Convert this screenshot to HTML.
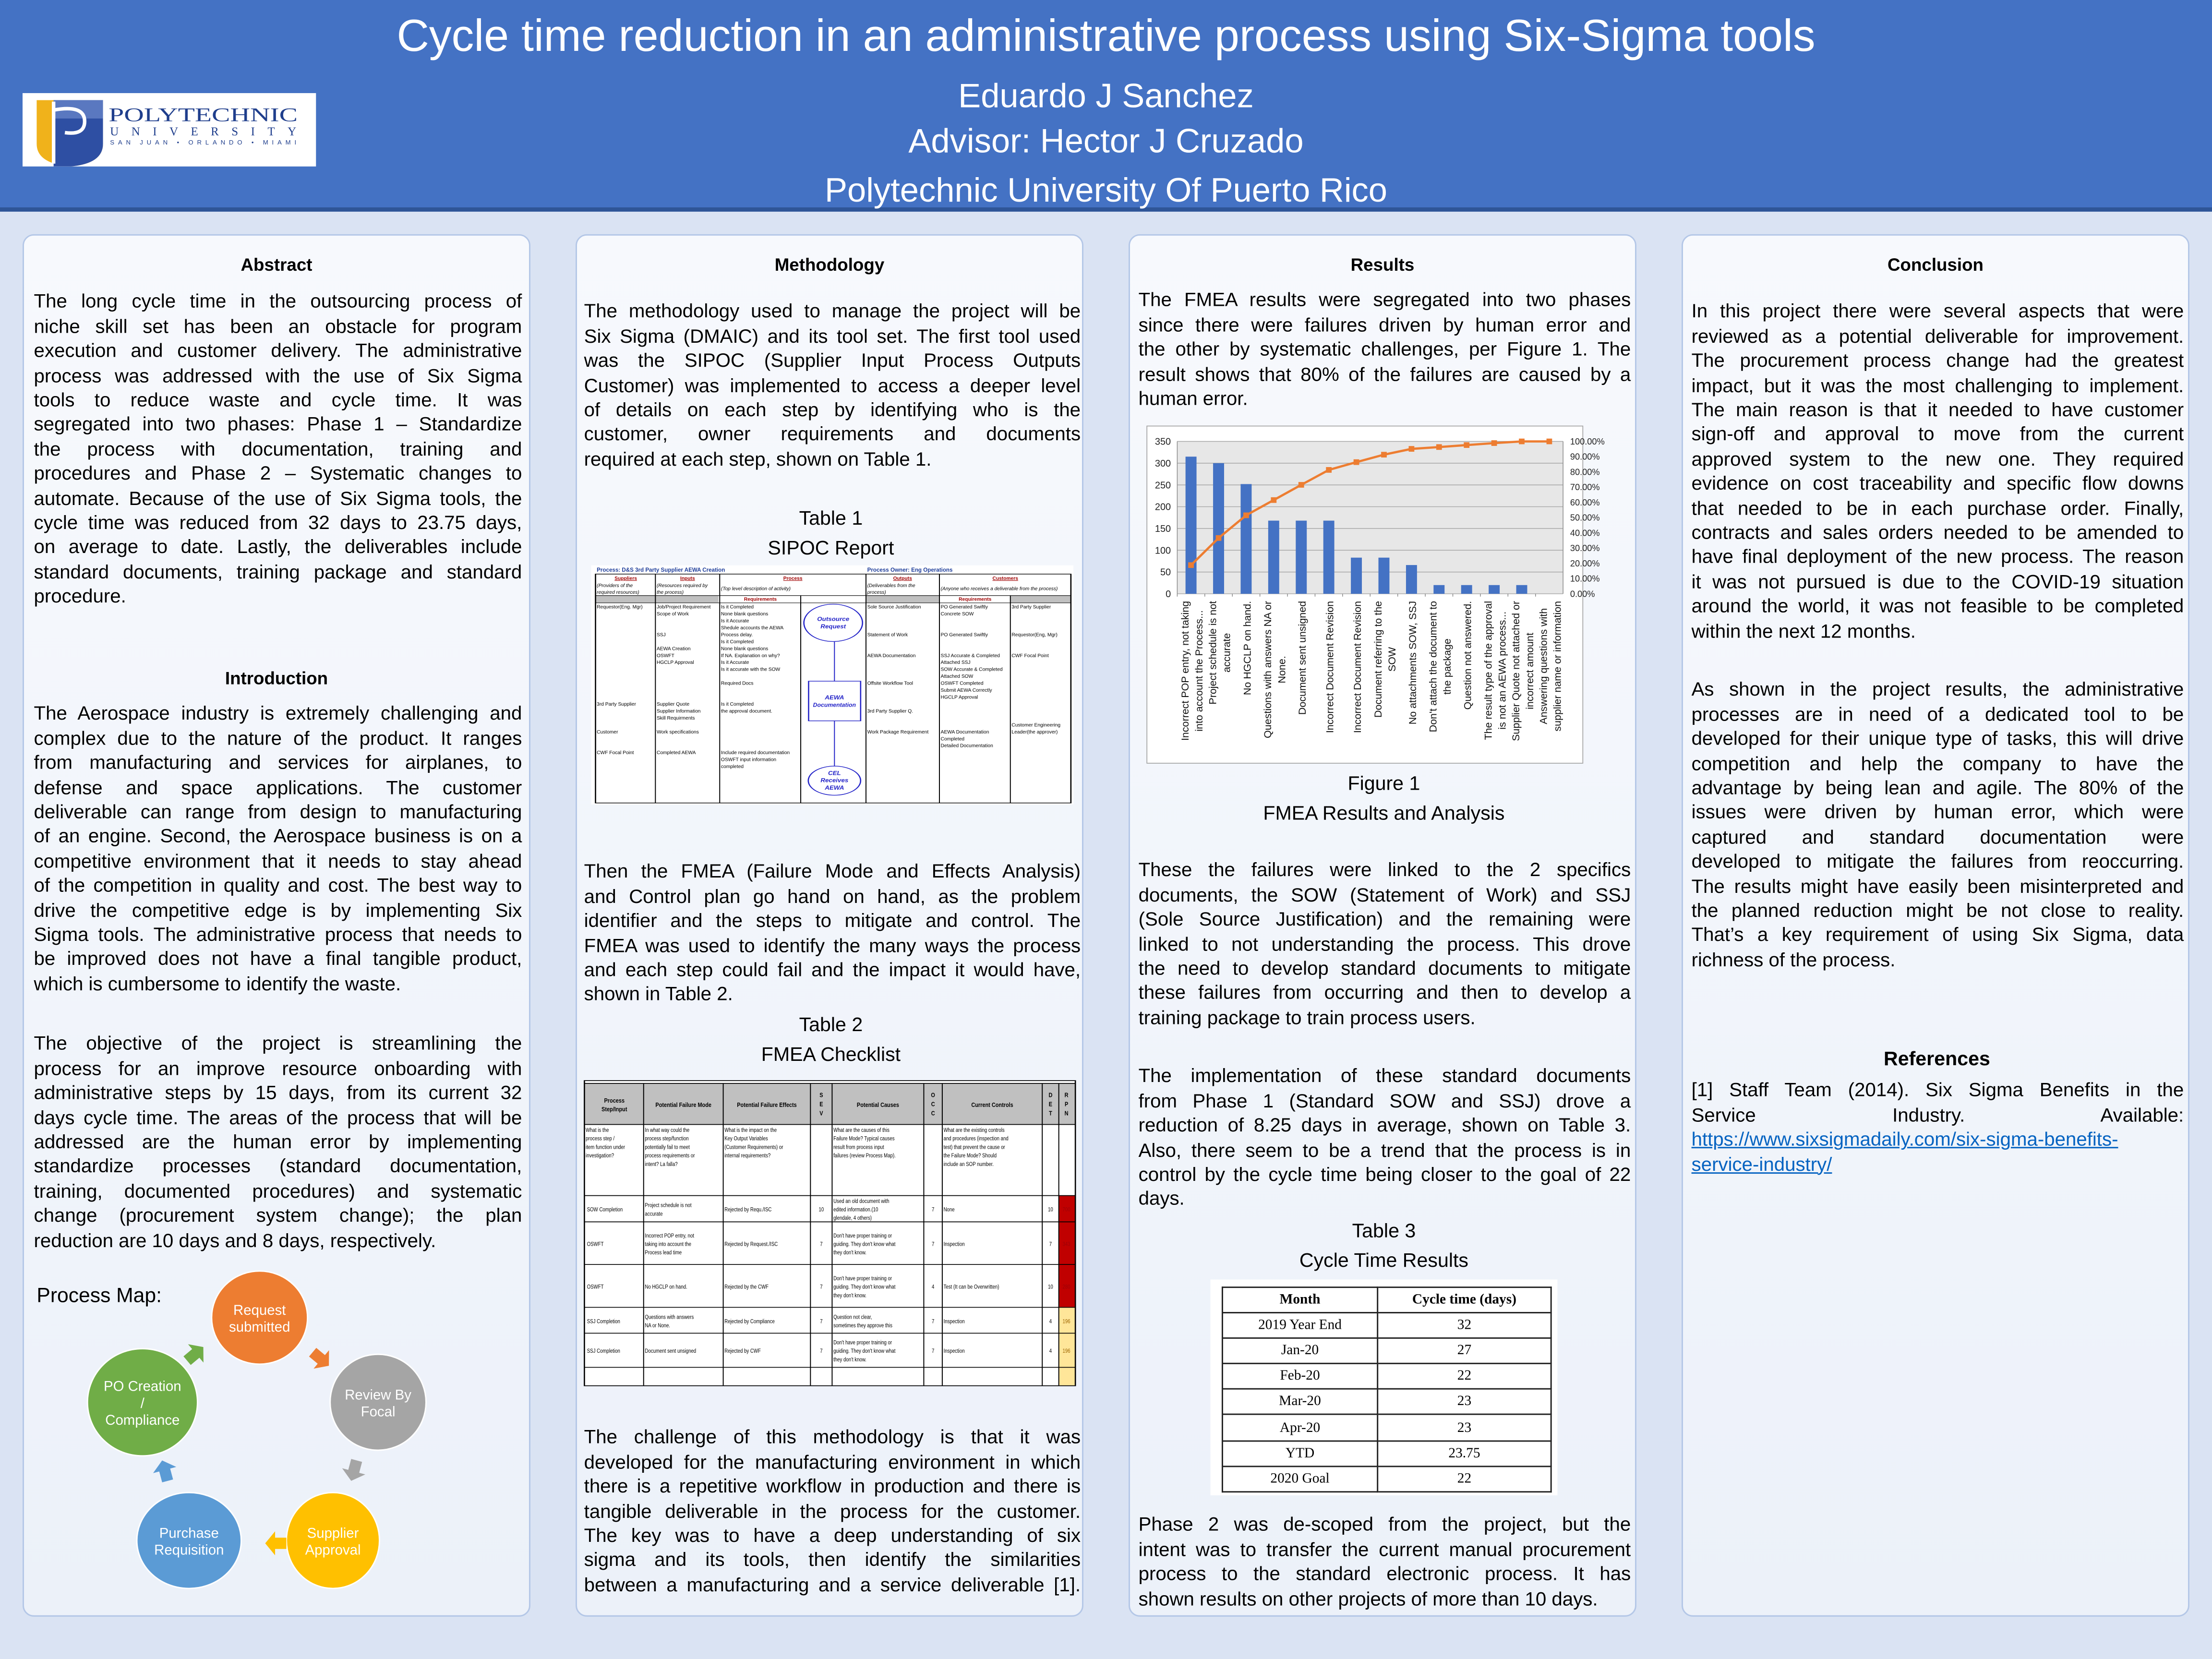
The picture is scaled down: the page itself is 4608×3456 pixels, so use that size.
<!DOCTYPE html>
<html><head><meta charset="utf-8">
<style>
*{margin:0;padding:0;box-sizing:border-box}
html,body{width:4608px;height:3456px;overflow:hidden;background:#DAE3F3}
#w{position:absolute;left:0;top:0;width:1568px;height:1176px;transform:scale(2.938776);transform-origin:0 0;font-family:"Liberation Sans",Arial,sans-serif;color:#000}
#hdr{position:absolute;left:0;top:0;width:1568px;height:150px;background:#4472C4;border-bottom:3px solid #2F5597}
.ht{position:absolute;left:0;width:1568px;text-align:center;color:#fff;white-space:nowrap}
.panel{position:absolute;top:166px;width:360px;height:980px;border:1px solid #B4C7E7;border-radius:8px;background:linear-gradient(#F7F9FD,#ECF1F9)}
.blk{position:absolute;font-size:13.7px}
.l{height:17.42px;line-height:17.42px;text-align:justify;text-align-last:justify;white-space:nowrap}
.l.e{text-align:left;text-align-last:left}
.h{position:absolute;font-weight:bold;font-size:12.5px;text-align:center;white-space:nowrap}
.c{position:absolute;font-size:14px;text-align:center;white-space:nowrap;width:360px}
table.t3{border-collapse:collapse;font-family:"Liberation Serif",serif;font-size:10px}
table.t3 td{border:1px solid #222;text-align:center;height:18.1px;padding:0}
</style></head><body>
<div id="w">
<div id="hdr">
  <div class="ht" style="top:7px;font-size:31.8px">Cycle time reduction in an administrative process using Six-Sigma tools</div>
  <div class="ht" style="top:55px;font-size:24px">Eduardo J Sanchez</div>
  <div class="ht" style="top:87px;font-size:24px">Advisor: Hector J Cruzado</div>
  <div class="ht" style="top:122px;font-size:24px">Polytechnic University Of Puerto Rico</div>
  <div style="position:absolute;left:16px;top:66px;width:208px;height:52px;background:#fff">
    <svg width="208" height="52" viewBox="0 0 208 52" style="position:absolute;left:0;top:0">
      <path d="M10 5 L57 5 L57 36 Q57 50 34 52 Q10 50 10 36 Z" fill="#F0B21B"/>
      <path d="M22 5 L57 5 L57 36 Q57 50 34 52 L22 52 Z" fill="#2E4FA3"/>
      <path d="M22 5 L57 5 L57 18 L22 18 Z" fill="#5A78C0"/>
      <path d="M22 6 L22 50" stroke="#fff" stroke-width="2.5" fill="none"/>
      <path d="M22 12 Q44 8 44 20 Q44 30 30 28" stroke="#fff" stroke-width="2.5" fill="none"/>
      <text x="61" y="20" font-family="Liberation Serif,serif" font-size="13.5" fill="#1F3E8C" textLength="134" lengthAdjust="spacingAndGlyphs">POLYTECHNIC</text>
      <text x="62" y="30" font-family="Liberation Serif,serif" font-size="8.5" fill="#1F3E8C" textLength="132" lengthAdjust="spacing">UNIVERSITY</text>
      <text x="62" y="36.5" font-family="Liberation Sans,sans-serif" font-size="4.5" fill="#1F3E8C" textLength="132" lengthAdjust="spacing">SAN JUAN • ORLANDO • MIAMI</text>
    </svg>
  </div>
</div>

<div class="panel" style="left:16px"></div>
<div class="panel" style="left:408px"></div>
<div class="panel" style="left:800px"></div>
<div class="panel" style="left:1192px"></div>

<!-- Abstract column -->
<div class="h" style="left:16px;width:360px;top:181px">Abstract</div>
<div class="blk" style="left:24px;width:346px;top:205.3px">
<div class="l">The long cycle time in the outsourcing process of</div>
<div class="l">niche skill set has been an obstacle for program</div>
<div class="l">execution and customer delivery. The administrative</div>
<div class="l">process was addressed with the use of Six Sigma</div>
<div class="l">tools to reduce waste and cycle time. It was</div>
<div class="l">segregated into two phases: Phase 1 – Standardize</div>
<div class="l">the process with documentation, training and</div>
<div class="l">procedures and Phase 2 – Systematic changes to</div>
<div class="l">automate. Because of the use of Six Sigma tools, the</div>
<div class="l">cycle time was reduced from 32 days to 23.75 days,</div>
<div class="l">on average to date. Lastly, the deliverables include</div>
<div class="l">standard documents, training package and standard</div>
<div class="l e">procedure.</div>
</div>
<div class="h" style="left:16px;width:360px;top:474px">Introduction</div>
<div class="blk" style="left:24px;width:346px;top:497.3px">
<div class="l">The Aerospace industry is extremely challenging and</div>
<div class="l">complex due to the nature of the product. It ranges</div>
<div class="l">from manufacturing and services for airplanes, to</div>
<div class="l">defense and space applications. The customer</div>
<div class="l">deliverable can range from design to manufacturing</div>
<div class="l">of an engine. Second, the Aerospace business is on a</div>
<div class="l">competitive environment that it needs to stay ahead</div>
<div class="l">of the competition in quality and cost. The best way to</div>
<div class="l">drive the competitive edge is by implementing Six</div>
<div class="l">Sigma tools. The administrative process that needs to</div>
<div class="l">be improved does not have a final tangible product,</div>
<div class="l e">which is cumbersome to identify the waste.</div>
</div>
<div class="blk" style="left:24px;width:346px;top:731.3px">
<div class="l">The objective of the project is streamlining the</div>
<div class="l">process for an improve resource onboarding with</div>
<div class="l">administrative steps by 15 days, from its current 32</div>
<div class="l">days cycle time. The areas of the process that will be</div>
<div class="l">addressed are the human error by implementing</div>
<div class="l">standardize processes (standard documentation,</div>
<div class="l">training, documented procedures) and systematic</div>
<div class="l">change (procurement system change); the plan</div>
<div class="l e">reduction are 10 days and 8 days, respectively.</div>
</div>
<div style="position:absolute;left:26px;top:911px;font-size:14.5px;white-space:nowrap">Process Map:</div>
<svg style="position:absolute;left:0;top:0" width="400" height="1176" viewBox="0 0 400 1176" font-family="Liberation Sans,sans-serif">
  <defs><polygon id="arr" points="-7,-4 1,-4 1,-8.5 8,0 1,8.5 1,4 -7,4"/></defs>
  <g stroke="#fff" stroke-width="1">
  <ellipse cx="184" cy="934" rx="34" ry="33" fill="#ED7D31"/>
  <ellipse cx="268" cy="994" rx="34" ry="34" fill="#A5A5A5"/>
  <ellipse cx="236" cy="1092" rx="33" ry="34" fill="#FFC000"/>
  <ellipse cx="134" cy="1092" rx="37" ry="34" fill="#5B9BD5"/>
  <ellipse cx="101" cy="994" rx="39" ry="38" fill="#70AD47"/>
  </g>
  <use href="#arr" transform="translate(227,963) rotate(40)" fill="#ED7D31"/>
  <use href="#arr" transform="translate(251,1042) rotate(105)" fill="#A5A5A5"/>
  <use href="#arr" transform="translate(196,1094) rotate(180)" fill="#FFC000"/>
  <use href="#arr" transform="translate(117,1043) rotate(-105)" fill="#5B9BD5"/>
  <use href="#arr" transform="translate(138,960) rotate(-40)" fill="#70AD47"/>
  <g fill="#fff" font-size="10" text-anchor="middle">
  <text x="184" y="932">Request</text><text x="184" y="944">submitted</text>
  <text x="268" y="992">Review By</text><text x="268" y="1004">Focal</text>
  <text x="236" y="1090">Supplier</text><text x="236" y="1102">Approval</text>
  <text x="134" y="1090">Purchase</text><text x="134" y="1102">Requisition</text>
  <text x="101" y="986">PO Creation</text><text x="101" y="998">/</text><text x="101" y="1010">Compliance</text>
  </g>
</svg>

<!-- Methodology column -->
<div class="h" style="left:408px;width:360px;top:181px">Methodology</div>
<div class="blk" style="left:414px;width:352px;top:212.3px">
<div class="l">The methodology used to manage the project will be</div>
<div class="l">Six Sigma (DMAIC) and its tool set. The first tool used</div>
<div class="l">was the SIPOC (Supplier Input Process Outputs</div>
<div class="l">Customer) was implemented to access a deeper level</div>
<div class="l">of details on each step by identifying who is the</div>
<div class="l">customer, owner requirements and documents</div>
<div class="l e">required at each step, shown on Table 1.</div>
</div>
<div class="c" style="left:409px;top:359px">Table 1</div>
<div class="c" style="left:409px;top:380px">SIPOC Report</div>
<svg id="sipoc" style="position:absolute;left:418.5px;top:394.7px" width="350.4" height="183.7" viewBox="0 0 1568 1568" preserveAspectRatio="none"></svg>
<div class="blk" style="left:414px;width:352px;top:609.3px">
<div class="l">Then the FMEA (Failure Mode and Effects Analysis)</div>
<div class="l">and Control plan go hand on hand, as the problem</div>
<div class="l">identifier and the steps to mitigate and control. The</div>
<div class="l">FMEA was used to identify the many ways the process</div>
<div class="l">and each step could fail and the impact it would have,</div>
<div class="l e">shown in Table 2.</div>
</div>
<div class="c" style="left:409px;top:718px">Table 2</div>
<div class="c" style="left:409px;top:739px">FMEA Checklist</div>
<svg id="fmea" style="position:absolute;left:411.7px;top:762.2px" width="353.9" height="224.6" viewBox="0 0 1568 1568" preserveAspectRatio="none"></svg>
<div class="blk" style="left:414px;width:352px;top:1010.3px">
<div class="l">The challenge of this methodology is that it was</div>
<div class="l">developed for the manufacturing environment in which</div>
<div class="l">there is a repetitive workflow in production and there is</div>
<div class="l">tangible deliverable in the process for the customer.</div>
<div class="l">The key was to have a deep understanding of six</div>
<div class="l">sigma and its tools, then identify the similarities</div>
<div class="l">between a manufacturing and a service deliverable [1].</div>
</div>

<!-- Results column -->
<div class="h" style="left:800px;width:360px;top:181px">Results</div>
<div class="blk" style="left:807px;width:349px;top:204.3px">
<div class="l">The FMEA results were segregated into two phases</div>
<div class="l">since there were failures driven by human error and</div>
<div class="l">the other by systematic challenges, per Figure 1. The</div>
<div class="l">result shows that 80% of the failures are caused by a</div>
<div class="l e">human error.</div>
</div>
<svg id="chart" style="position:absolute;left:0;top:0" width="1568" height="600" viewBox="0 0 1568 600" font-family="Liberation Sans,sans-serif"></svg>
<div class="c" style="left:801px;top:547px">Figure 1</div>
<div class="c" style="left:801px;top:568px">FMEA Results and Analysis</div>
<div class="blk" style="left:807px;width:349px;top:608.3px">
<div class="l">These the failures were linked to the 2 specifics</div>
<div class="l">documents, the SOW (Statement of Work) and SSJ</div>
<div class="l">(Sole Source Justification) and the remaining were</div>
<div class="l">linked to not understanding the process. This drove</div>
<div class="l">the need to develop standard documents to mitigate</div>
<div class="l">these failures from occurring and then to develop a</div>
<div class="l e">training package to train process users.</div>
</div>
<div class="blk" style="left:807px;width:349px;top:754.3px">
<div class="l">The implementation of these standard documents</div>
<div class="l">from Phase 1 (Standard SOW and SSJ) drove a</div>
<div class="l">reduction of 8.25 days in average, shown on Table 3.</div>
<div class="l">Also, there seem to be a trend that the process is in</div>
<div class="l">control by the cycle time being closer to the goal of 22</div>
<div class="l e">days.</div>
</div>
<div class="c" style="left:801px;top:864px">Table 3</div>
<div class="c" style="left:801px;top:885px">Cycle Time Results</div>
<div style="position:absolute;left:858px;top:907px;width:246px;height:153px;background:#fff"></div>
<table class="t3" style="position:absolute;left:866px;top:912px;width:234px">
<tr style="font-weight:bold"><td style="width:110px">Month</td><td>Cycle time (days)</td></tr>
<tr><td>2019 Year End</td><td>32</td></tr>
<tr><td>Jan-20</td><td>27</td></tr>
<tr><td>Feb-20</td><td>22</td></tr>
<tr><td>Mar-20</td><td>23</td></tr>
<tr><td>Apr-20</td><td>23</td></tr>
<tr><td>YTD</td><td>23.75</td></tr>
<tr><td>2020 Goal</td><td>22</td></tr>
</table>
<div class="blk" style="left:807px;width:349px;top:1072.3px">
<div class="l">Phase 2 was de-scoped from the project, but the</div>
<div class="l">intent was to transfer the current manual procurement</div>
<div class="l">process to the standard electronic process. It has</div>
<div class="l e">shown results on other projects of more than 10 days.</div>
</div>

<!-- Conclusion column -->
<div class="h" style="left:1192px;width:360px;top:181px">Conclusion</div>
<div class="blk" style="left:1199px;width:349px;top:212.3px">
<div class="l">In this project there were several aspects that were</div>
<div class="l">reviewed as a potential deliverable for improvement.</div>
<div class="l">The procurement process change had the greatest</div>
<div class="l">impact, but it was the most challenging to implement.</div>
<div class="l">The main reason is that it needed to have customer</div>
<div class="l">sign-off and approval to move from the current</div>
<div class="l">approved system to the new one. They required</div>
<div class="l">evidence on cost traceability and specific flow downs</div>
<div class="l">that needed to be in each purchase order. Finally,</div>
<div class="l">contracts and sales orders needed to be amended to</div>
<div class="l">have final deployment of the new process. The reason</div>
<div class="l">it was not pursued is due to the COVID-19 situation</div>
<div class="l">around the world, it was not feasible to be completed</div>
<div class="l e">within the next 12 months.</div>
</div>
<div class="blk" style="left:1199px;width:349px;top:480.3px">
<div class="l">As shown in the project results, the administrative</div>
<div class="l">processes are in need of a dedicated tool to be</div>
<div class="l">developed for their unique type of tasks, this will drive</div>
<div class="l">competition and help the company to have the</div>
<div class="l">advantage by being lean and agile. The 80% of the</div>
<div class="l">issues were driven by human error, which were</div>
<div class="l">captured and standard documentation were</div>
<div class="l">developed to mitigate the failures from reoccurring.</div>
<div class="l">The results might have easily been misinterpreted and</div>
<div class="l">the planned reduction might be not close to reality.</div>
<div class="l">That’s a key requirement of using Six Sigma, data</div>
<div class="l e">richness of the process.</div>
</div>
<div class="h" style="left:1192px;width:362px;top:742px;font-size:14px">References</div>
<div class="blk" style="left:1199px;width:349px;top:764.3px">
<div class="l">[1] Staff Team (2014). Six Sigma Benefits in the</div>
<div class="l">Service Industry. Available:</div>
<div class="l e" style="color:#0563C1;text-decoration:underline">https://www.sixsigmadaily.com/six-sigma-benefits-</div>
<div class="l e" style="color:#0563C1;text-decoration:underline">service-industry/</div>
</div>
</div>

<script>
var NS="http://www.w3.org/2000/svg";
function el(p,tag,a,txt){var e=document.createElementNS(NS,tag);for(var k in a)e.setAttribute(k,a[k]);if(txt!==undefined)e.textContent=txt;p.appendChild(e);return e;}
document.querySelectorAll('.l').forEach(function(d){
  var s=document.createElement('span');s.textContent=d.textContent;s.style.whiteSpace='nowrap';
  d.textContent='';d.appendChild(s);
  var W=d.clientWidth,w=s.getBoundingClientRect().width/2.938776;
  if(w>W){var n=(s.textContent.match(/ /g)||[]).length;var ex=w-W+0.5;
    if(n&&ex/n<2.2){d.style.wordSpacing=(-ex/n)+'px';}else{d.style.letterSpacing=(-(ex)/s.textContent.length)+'px';}}
});
(function(){
 var g=document.getElementById('chart');
 el(g,'rect',{x:813,y:302,width:309,height:239,fill:'#fff',stroke:'#A6A6A6','stroke-width':0.6});
 var L=834.5,R=1108,T=312.9,B=420.9,H=B-T;
 el(g,'rect',{x:L,y:T,width:R-L,height:H,fill:'#E7E7E7'});
 for(var i=0;i<=7;i++){var y=B-H*i/7;el(g,'line',{x1:L,x2:R,y1:y,y2:y,stroke:'#A6A6A6','stroke-width':0.5});
   el(g,'text',{x:830,y:y+2.4,'font-size':6.8,'text-anchor':'end',fill:'#222'},String(i*50));}
 for(var i=0;i<=10;i++){var y=B-H*i/10;el(g,'text',{x:1113,y:y+2.2,'font-size':6.2,fill:'#222'},(i*10)+'.00%');}
 el(g,'line',{x1:L,x2:L,y1:T,y2:B,stroke:'#888','stroke-width':0.5});
 el(g,'line',{x1:R,x2:R,y1:T,y2:B,stroke:'#888','stroke-width':0.5});
 var v=[315,300,252,168,168,168,83,83,66,20,20,20,20,0];
 var p=[18.8,36.6,51.5,61.5,71.5,81.3,86.4,91.3,95.1,96.3,97.6,98.9,100,100];
 var sw=(R-L)/14,pts=[];
 var labs=[["Incorrect POP entry, not taking","into account the Process..."],["Project schedule is not","accurate"],["No HGCLP on hand."],["Questions with answers NA or","None."],["Document sent unsigned"],["Incorrect Document Revision"],["Incorrect Document Revision"],["Document referring to the","SOW"],["No attachments SOW, SSJ"],["Don't attach the document to","the package"],["Question not answered."],["The result type of the approval","is not an AEWA process..."],["Supplier Quote not attached or","incorrect amount"],["Answering questions with","supplier name or information"]];
 for(var i=0;i<14;i++){var cx=L+sw*(i+0.5);
   if(v[i]>0)el(g,'rect',{x:cx-3.9,y:B-H*v[i]/350,width:7.8,height:H*v[i]/350,fill:'#4472C4'});
   pts.push(cx+','+(B-H*p[i]/100));
   el(g,'line',{x1:L+sw*i,x2:L+sw*i,y1:B,y2:B+2,stroke:'#888','stroke-width':0.5});
 }
 el(g,'polyline',{points:pts.join(' '),fill:'none',stroke:'#ED7D31','stroke-width':1.6});
 pts.forEach(function(s){var a=s.split(',');el(g,'rect',{x:a[0]-2,y:a[1]-2,width:4,height:4,fill:'#ED7D31'});});
 for(var i=0;i<14;i++){var cx=L+sw*(i+0.5)+0.6;var ls=labs[i];var n=ls.length;
   var ts=[],mx=0;
   for(var j=0;j<n;j++){var x=cx+(j-(n-1)/2)*9.9+2.6;
     var t=el(g,'text',{'font-size':7.3,fill:'#111','text-anchor':'middle'},ls[j]);ts.push([t,x]);
     var w=t.getComputedTextLength();if(w>mx)mx=w;}
   ts.forEach(function(q){q[0].setAttribute('transform','translate('+q[1]+','+(426+mx/2)+') rotate(-90)');});
 }
})();
function T(g,x,y,s,o){o=o||{};var k=o.k||0.52;var a={transform:'translate('+x+','+y+') scale('+k+',1)','font-size':o.fs||30,fill:o.fill||'#000'};
 if(o.anchor)a['text-anchor']=o.anchor;if(o.w)a['font-weight']=o.w;if(o.st)a['font-style']=o.st;if(o.dec)a['text-decoration']=o.dec;
 return el(g,'text',a,s);}
(function(){
 var g=document.getElementById('sipoc');g.setAttribute('font-family','Liberation Sans,sans-serif');
 el(g,'rect',{x:0,y:49,width:1530,height:1447,fill:'#fff'});
 T(g,18,88,'Process: D&S 3rd Party Supplier AEWA Creation',{fill:'#1F3E9A',fs:34,w:'bold'});
 T(g,876,88,'Process Owner: Eng Operations',{fill:'#1F3E9A',fs:34,w:'bold'});
 el(g,'rect',{x:14,y:232,width:390,height:44,fill:'#C0C0C0'});
 el(g,'rect',{x:872,y:232,width:233,height:44,fill:'#C0C0C0'});
 el(g,'rect',{x:1330,y:232,width:192,height:44,fill:'#C0C0C0'});
 el(g,'rect',{x:14,y:102,width:1508,height:1385,fill:'none',stroke:'#000','stroke-width':4});
 [204,408,872,1105].forEach(function(x){el(g,'line',{x1:x,x2:x,y1:102,y2:1487,stroke:'#000','stroke-width':3});});
 [665,1330].forEach(function(x){el(g,'line',{x1:x,x2:x,y1:232,y2:1487,stroke:'#000','stroke-width':3});});
 el(g,'line',{x1:14,x2:1522,y1:232,y2:232,stroke:'#000','stroke-width':3});
 el(g,'line',{x1:14,x2:1522,y1:276,y2:276,stroke:'#000','stroke-width':3});
 [['Suppliers',110],['Inputs',306],['Process',640],['Outputs',988],['Customers',1314]].forEach(function(h){T(g,h[1],137,h[0],{fill:'#A00000',fs:30,w:'bold',anchor:'middle',dec:'underline'});});
 T(g,537,264,'Requirements',{fill:'#A00000',fs:30,w:'bold',anchor:'middle'});T(g,1218,264,'Requirements',{fill:'#A00000',fs:30,w:'bold',anchor:'middle'});
 T(g,18,180,'(Providers of the',{st:'italic'});T(g,18,222,'required resources)',{st:'italic'});
 T(g,208,180,'(Resources required by',{st:'italic'});T(g,208,222,'the process)',{st:'italic'});
 T(g,412,200,'(Top level description of activity)',{st:'italic'});
 T(g,876,180,'(Deliverables from the',{st:'italic'});T(g,876,222,'process)',{st:'italic'});
 T(g,1109,200,'(Anyone who receives a deliverable from the process)',{st:'italic'});
 [[310,'Requestor(Eng. Mgr)'],[898,'3rd Party Supplier'],[1066,'Customer'],[1192,'CWF Focal Point']].forEach(function(r){T(g,18,r[0],r[1]);});
 [[310,'Job/Project Requirement'],[352,'Scope of Work'],[478,'SSJ'],[562,'AEWA Creation'],[604,'OSWFT'],[646,'HGCLP Approval'],[898,'Supplier Quote'],[940,'Supplier Information'],[982,'Skill Requirments'],[1066,'Work specifications'],[1192,'Completed AEWA']].forEach(function(r){T(g,208,r[0],r[1]);});
 [[310,'Is it Completed'],[352,'   None blank questions'],[394,'Is it Accurate'],[436,'   Shedule accounts the AEWA'],[478,'   Process delay.'],[520,'Is it Completed'],[562,'   None blank questions'],[604,'   If NA. Explanation on why?'],[646,'Is it Accurate'],[688,'   Is it accurate with the SOW'],[772,'Required Docs'],[898,'Is it Completed'],[940,'   the approval document.'],[1192,'Include required documentation'],[1234,'OSWFT input information'],[1276,'completed']].forEach(function(r){T(g,412,r[0],r[1]);});
 [[310,'Sole Source Justification'],[478,'Statement of Work'],[604,'AEWA Documentation'],[772,'Offsite Workflow Tool'],[940,'3rd Party Supplier Q.'],[1066,'Work Package Requirement']].forEach(function(r){T(g,876,r[0],r[1]);});
 [[310,'PO Generated  Swiftly'],[352,'Concrete SOW'],[478,'PO Generated Swiftly'],[604,'SSJ Accurate & Completed'],[646,'Attached SSJ'],[688,'SOW Accurate & Completed'],[730,'Attached SOW'],[772,'OSWFT Completed'],[814,'Submit AEWA Correctly'],[856,'HGCLP Approval'],[1066,'AEWA Documentation'],[1108,'          Completed'],[1150,'Detailed Documentation']].forEach(function(r){T(g,1109,r[0],r[1]);});
 [[310,'3rd Party Supplier'],[478,'Requestor(Eng, Mgr)'],[604,'CWF Focal Point'],[1024,'Customer Engineering'],[1066,'Leader(the approver)']].forEach(function(r){T(g,1334,r[0],r[1]);});
 var B='#2424C8';
 el(g,'ellipse',{cx:768,cy:397,rx:93,ry:113,fill:'none',stroke:B,'stroke-width':4});
 el(g,'rect',{x:690,y:750,width:165,height:240,fill:'none',stroke:B,'stroke-width':4});
 el(g,'ellipse',{cx:772,cy:1352,rx:83,ry:88,fill:'none',stroke:B,'stroke-width':4});
 el(g,'line',{x1:772,x2:772,y1:510,y2:750,stroke:B,'stroke-width':3});
 el(g,'line',{x1:772,x2:772,y1:990,y2:1264,stroke:B,'stroke-width':3});
 T(g,768,385,'Outsource',{fill:B,w:'bold',st:'italic',anchor:'middle',fs:34,k:0.6});T(g,768,430,'Request',{fill:B,w:'bold',st:'italic',anchor:'middle',fs:34,k:0.6});
 T(g,772,860,'AEWA',{fill:B,w:'bold',st:'italic',anchor:'middle',fs:34,k:0.6});T(g,772,905,'Documentation',{fill:B,w:'bold',st:'italic',anchor:'middle',fs:34,k:0.55});
 T(g,772,1318,'CEL',{fill:B,w:'bold',st:'italic',anchor:'middle',fs:34,k:0.6});T(g,772,1362,'Receives',{fill:B,w:'bold',st:'italic',anchor:'middle',fs:34,k:0.6});T(g,772,1406,'AEWA',{fill:B,w:'bold',st:'italic',anchor:'middle',fs:34,k:0.6});
})();
(function(){
 var g=document.getElementById('fmea');g.setAttribute('font-family','Liberation Sans,sans-serif');
 el(g,'rect',{x:10,y:28,width:1542,height:1510,fill:'#fff'});
 el(g,'rect',{x:10,y:42,width:1542,height:203,fill:'#C0C0C0'});
 el(g,'rect',{x:1500,y:597,width:52,height:553,fill:'#C00000'});
 el(g,'rect',{x:1500,y:1150,width:52,height:388,fill:'#FFE699'});
 el(g,'rect',{x:10,y:28,width:1542,height:1510,fill:'none',stroke:'#000','stroke-width':4});
 [196,446,720,788,1076,1134,1448,1500].forEach(function(x){el(g,'line',{x1:x,x2:x,y1:42,y2:1538,stroke:'#000','stroke-width':3});});
 [42,245,597,727,938,1150,1278,1447].forEach(function(y){el(g,'line',{x1:10,x2:1552,y1:y,y2:y,stroke:'#000','stroke-width':4});});
 var hb={w:'bold',anchor:'middle',fs:30,k:0.55};
 T(g,104,137,'Process',hb);T(g,104,180,'Step/Input',hb);T(g,321,158,'Potential Failure Mode',hb);T(g,583,158,'Potential Failure Effects',hb);
 T(g,754,110,'S',hb);T(g,754,155,'E',hb);T(g,754,200,'V',hb);T(g,932,158,'Potential Causes',hb);
 T(g,1105,110,'O',hb);T(g,1105,155,'C',hb);T(g,1105,200,'C',hb);T(g,1291,158,'Current Controls',hb);
 T(g,1474,110,'D',hb);T(g,1474,155,'E',hb);T(g,1474,200,'T',hb);T(g,1524,110,'R',hb);T(g,1524,155,'P',hb);T(g,1524,200,'N',hb);
 var d=[[14,['What is the','process step /','item function under','investigation?']],[200,['In what way could the','process step/function','potentially fail to meet','process requirements or','intent? La falla?']],[450,['What is the impact on the','Key Output Variables','(Customer Requirements) or','internal requirements?']],[792,['What are the causes of this','Failure Mode?  Typical causes','result from process input','failures (review Process Map).']],[1138,['What are the existing controls','and procedures (inspection and','test) that prevent the cause or','the Failure Mode?  Should','include an SOP number.']]];
 d.forEach(function(c){c[1].forEach(function(s,i){T(g,c[0],282+i*42,s,{fs:28});});});
 var rows=[[675,'SOW Completion',['Project schedule is not','accurate'],'Rejected by Requ./ISC','10',['Used an old document with','edited information.(10','glendale, 4 others)'],'7','None','10','700'],
 [846,'OSWFT',['Incorrect POP entry, not','taking into account the','Process lead time'],'Rejected by Request./ISC','7',["Don't have proper training or","guiding. They don't know what","they don't know."],'7','Inspection','7','343'],
 [1058,'OSWFT',['No HGCLP on hand.'],'Rejected by the CWF','7',["Don't have proper training or","guiding. They don't know what","they don't know."],'4','Test (It can be Overwritten)','10','280'],
 [1228,'SSJ Completion',['Questions with answers','NA or None.'],'Rejected by Compliance','7',['Question not clear,','sometimes they approve this'],'7','Inspection','4','196'],
 [1375,'SSJ Completion',['Document sent unsigned'],'Rejected by CWF','7',["Don't have proper training or","guiding. They don't know what","they don't know."],'7','Inspection','4','196']];
 rows.forEach(function(r){var y=r[0];T(g,18,y,r[1],{fs:28});
  r[2].forEach(function(s,i){T(g,200,y+(i-(r[2].length-1)/2)*42,s,{fs:28});});
  T(g,450,y,r[3],{fs:28});T(g,754,y,r[4],{fs:28,anchor:'middle'});
  r[5].forEach(function(s,i){T(g,792,y+(i-(r[5].length-1)/2)*42,s,{fs:28});});
  T(g,1105,y,r[6],{fs:28,anchor:'middle'});T(g,1138,y,r[7],{fs:28});T(g,1474,y,r[8],{fs:28,anchor:'middle'});
  T(g,1524,y,r[9],{fs:28,anchor:'middle',fill:r[9]=='196'?'#9C6500':'#9C0006'});});
})();
</script>
</body></html>
